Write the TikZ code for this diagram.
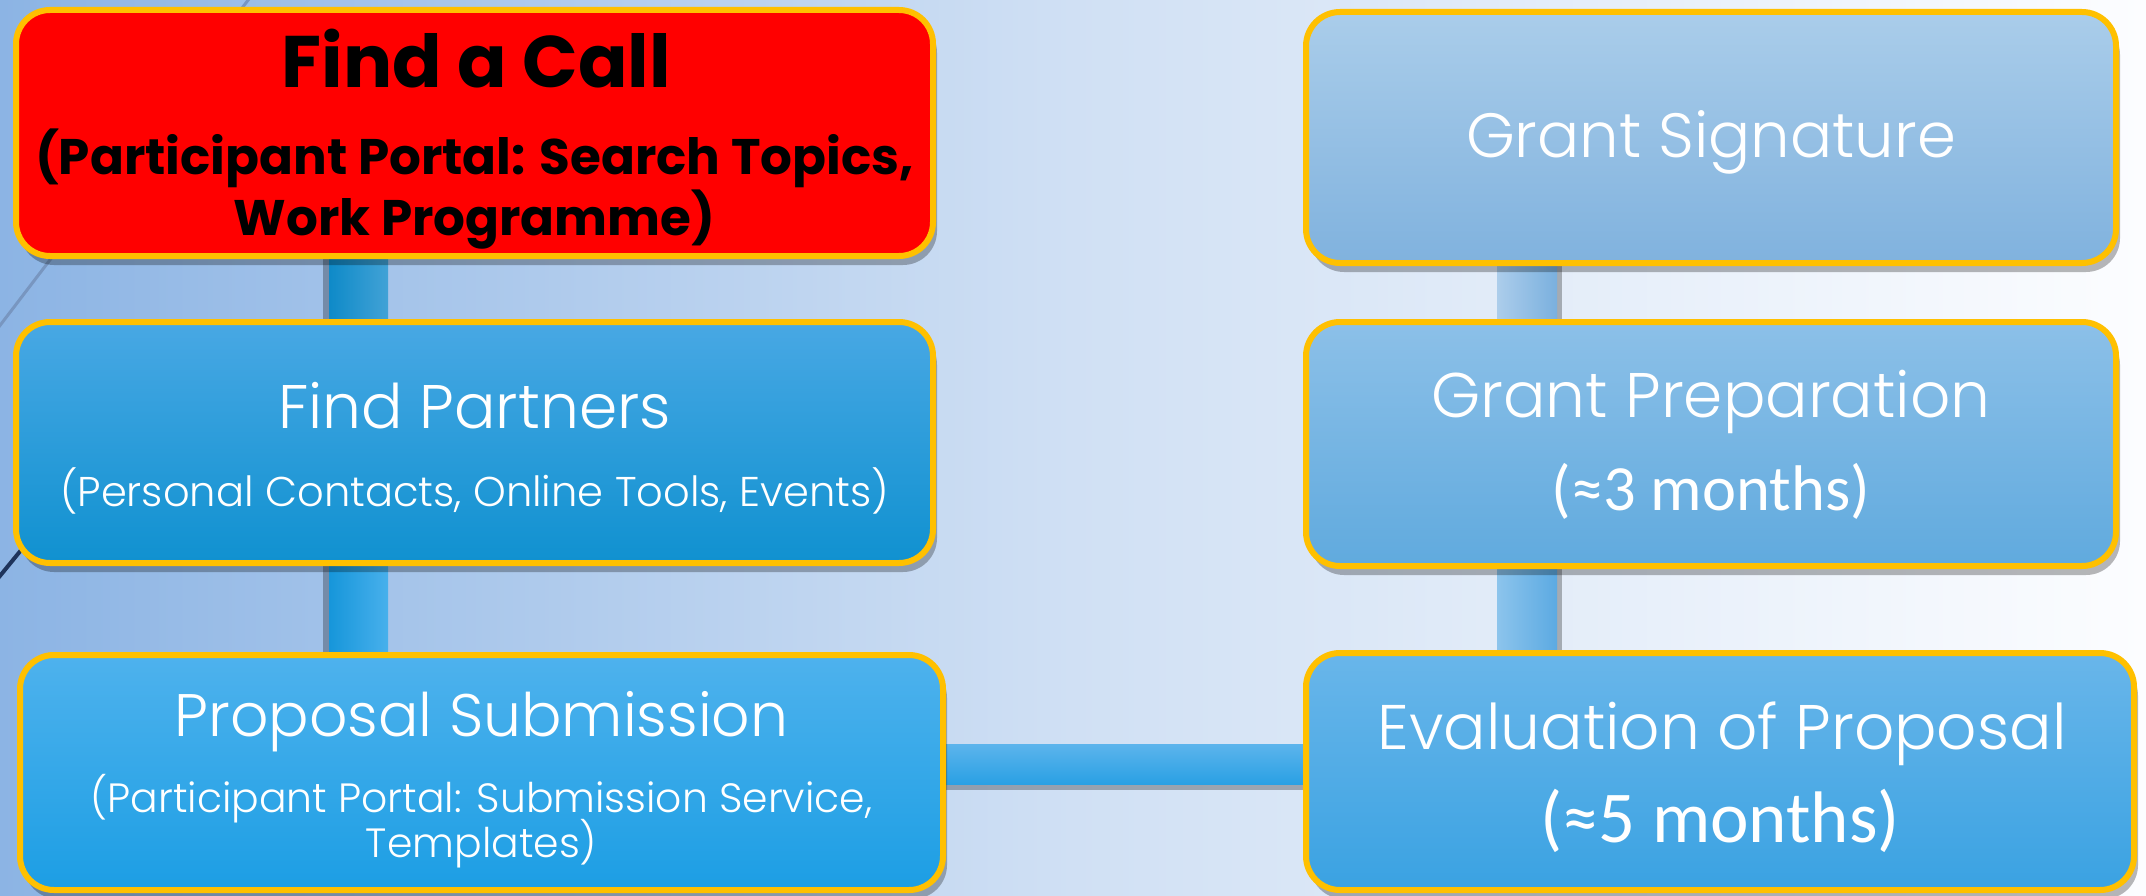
\documentclass[tikz,border=0pt]{standalone}
\usepackage{fontspec}
\usetikzlibrary{shadows,calc}
\newfontfamily\cgl{Poppins Light}
\newfontfamily\cgb{Poppins}
\newfontfamily\carl{Carlito}
\definecolor{gold}{RGB}{255,192,0}
\definecolor{bgL}{RGB}{140,180,228}
\definecolor{bgM}{RGB}{208,224,244}
\definecolor{bgR}{RGB}{252,253,255}
\definecolor{lineLight}{RGB}{120,150,192}
\definecolor{lineDark}{RGB}{30,52,92}
\definecolor{partT}{RGB}{72,168,228}
\definecolor{partB}{RGB}{16,145,208}
\definecolor{propT}{RGB}{78,178,237}
\definecolor{propB}{RGB}{28,158,228}
\definecolor{sigT}{RGB}{170,205,234}
\definecolor{sigB}{RGB}{128,178,222}
\definecolor{prepT}{RGB}{140,192,232}
\definecolor{prepB}{RGB}{96,170,222}
\definecolor{evalT}{RGB}{105,182,234}
\definecolor{evalB}{RGB}{58,162,226}
\definecolor{clL}{RGB}{14,138,200}
\definecolor{clR}{RGB}{66,162,214}
\definecolor{clL2}{RGB}{22,150,218}
\definecolor{clR2}{RGB}{72,176,236}
\definecolor{crL}{RGB}{172,205,235}
\definecolor{crR}{RGB}{122,176,222}
\definecolor{crL2}{RGB}{140,196,236}
\definecolor{crR2}{RGB}{92,170,226}
\definecolor{chT}{RGB}{92,180,236}
\definecolor{chB}{RGB}{42,160,228}
\pgfdeclarelayer{back}
\pgfdeclarelayer{bars}
\pgfsetlayers{back,bars,main}
\newcommand{\fsz}[1]{\fontsize{#1}{#1}\selectfont}
\begin{document}
\begin{tikzpicture}[x=1pt,y=-1pt,
  box/.style={shape=rectangle, draw=gold, line width=6pt, rounded corners=34pt,
    inner sep=0pt, outer sep=0pt,
    drop shadow={shadow xshift=4pt, shadow yshift=-9pt, fill=black, opacity=0.28}},
  sh/.style={fill=black, opacity=0.28},
  boldtxt/.style={anchor=base, inner sep=0pt, text=black, font=\cgb\bfseries\fsz{50}},
  bigtxt/.style={anchor=base, inner sep=0pt, text=white, font=\cgl\fsz{62}},
  smalltxt/.style={anchor=base, inner sep=0pt, text=white, font=\cgl\fsz{41}},
  caltxt/.style={anchor=base, inner sep=0pt, text=white, font=\carl\fsz{64}}]
\useasboundingbox (0,0) rectangle (2146,896);
\begin{pgfonlayer}{back}
  \shade[left color=bgL, right color=bgR, middle color=bgM] (0,0) rectangle (2146,896);
  \draw[line width=3pt, lineLight] (252,-5) -- (-5,332);
  \draw[line width=4pt, lineDark] (80,478) -- (-5,582);
\end{pgfonlayer}

% boxes
\node[box, fill=red, minimum width=917pt, minimum height=246pt] (call) at (474.5,133) {};
\node[box, top color=partT, bottom color=partB, minimum width=917pt, minimum height=241pt] (partners) at (474.5,442.5) {};
\node[box, top color=propT, bottom color=propB, minimum width=923pt, minimum height=235pt] (proposal) at (481.5,772.5) {};
\node[box, top color=sigT, bottom color=sigB, minimum width=810pt, minimum height=251pt] (sig) at (1711,137.5) {};
\node[box, top color=prepT, bottom color=prepB, minimum width=810pt, minimum height=244pt] (prep) at (1711,444) {};
\node[box, top color=evalT, bottom color=evalB, minimum width=828pt, minimum height=237pt] (eval) at (1720,771.5) {};

% connectors (behind boxes)
\begin{pgfonlayer}{bars}
  \coordinate (l1a) at ($(call.center)+(-151.5,0)$);
  \coordinate (l1b) at ($(call.center)+(-145.5,0)$);
  \coordinate (l1c) at ($(call.center)+(-86.5,0)$);
  \fill[sh] (l1a) rectangle (l1b |- partners.center);
  \shade[left color=clL, right color=clR] (l1b) rectangle (l1c |- partners.center);
  \coordinate (l2a) at ($(partners.center)+(-151.5,0)$);
  \coordinate (l2b) at ($(partners.center)+(-145.5,0)$);
  \coordinate (l2c) at ($(partners.center)+(-86.5,0)$);
  \fill[sh] (l2a) rectangle (l2b |- proposal.center);
  \shade[left color=clL2, right color=clR2] (l2b) rectangle (l2c |- proposal.center);
  \coordinate (r1a) at ($(sig.center)+(-214,0)$);
  \coordinate (r1b) at ($(sig.center)+(-154,0)$);
  \coordinate (r1c) at ($(sig.center)+(-149,0)$);
  \fill[sh] (r1b) rectangle (r1c |- prep.center);
  \shade[left color=crL, right color=crR] (r1a) rectangle (r1b |- prep.center);
  \coordinate (r2a) at ($(prep.center)+(-214,0)$);
  \coordinate (r2b) at ($(prep.center)+(-154,0)$);
  \coordinate (r2c) at ($(prep.center)+(-149,0)$);
  \fill[sh] (r2b) rectangle (r2c |- eval.center);
  \shade[left color=crL2, right color=crR2] (r2a) rectangle (r2b |- eval.center);
  \coordinate (h1a) at ($(proposal.center)+(0,-28.5)$);
  \coordinate (h1b) at ($(proposal.center)+(0,11.5)$);
  \coordinate (h1c) at ($(proposal.center)+(0,17.5)$);
  \fill[sh] (h1b) rectangle (eval.center |- h1c);
  \shade[top color=chT, bottom color=chB] (h1a) rectangle (eval.center |- h1b);
\end{pgfonlayer}

% texts
\node[boldtxt, font=\cgb\bfseries\fsz{73}] (t1) at ($(call.center)+(2,-45)$) {Find a Call};
\node[boldtxt] (t2) at ($(call.center)+(0,42)$) {(Participant Portal: Search Topics,};
\node[boldtxt] (t3) at ($(call.center)+(0,102)$) {Work Programme)};
\node[bigtxt, font=\cgl\fsz{61.5}] (t4) at ($(partners.center)+(0,-14.5)$) {Find Partners};
\node[smalltxt, font=\cgl\fsz{41.6}] (t5) at ($(partners.center)+(0,63.5)$) {(Personal Contacts, Online Tools, Events)};
\node[bigtxt, font=\cgl\fsz{60}] (t6) at ($(proposal.center)+(0,-36.5)$) {Proposal Submission};
\node[smalltxt, font=\cgl\fsz{40.9}] (t7) at ($(proposal.center)+(0,39.5)$) {(Participant Portal: Submission Service,};
\node[smalltxt, font=\cgl\fsz{40.9}] (t8) at ($(proposal.center)+(0,84.5)$) {Templates)};
\node[bigtxt, font=\cgl\fsz{62.5}] (t9) at ($(sig.center)+(0,20.5)$) {Grant Signature};
\node[bigtxt, font=\cgl\fsz{63}] (t10) at ($(prep.center)+(0,-27)$) {Grant Preparation};
\node[caltxt, font=\carl\fsz{64.5}] (t11) at ($(prep.center)+(0,66)$) {(≈3 months)};
\node[bigtxt, font=\cgl\fsz{63}] (t12) at ($(eval.center)+(2,-22.5)$) {Evaluation of Proposal};
\node[caltxt, font=\carl\fsz{73}] (t13) at ($(eval.center)+(0,70.5)$) {(≈5 months)};
\end{tikzpicture}
\end{document}
